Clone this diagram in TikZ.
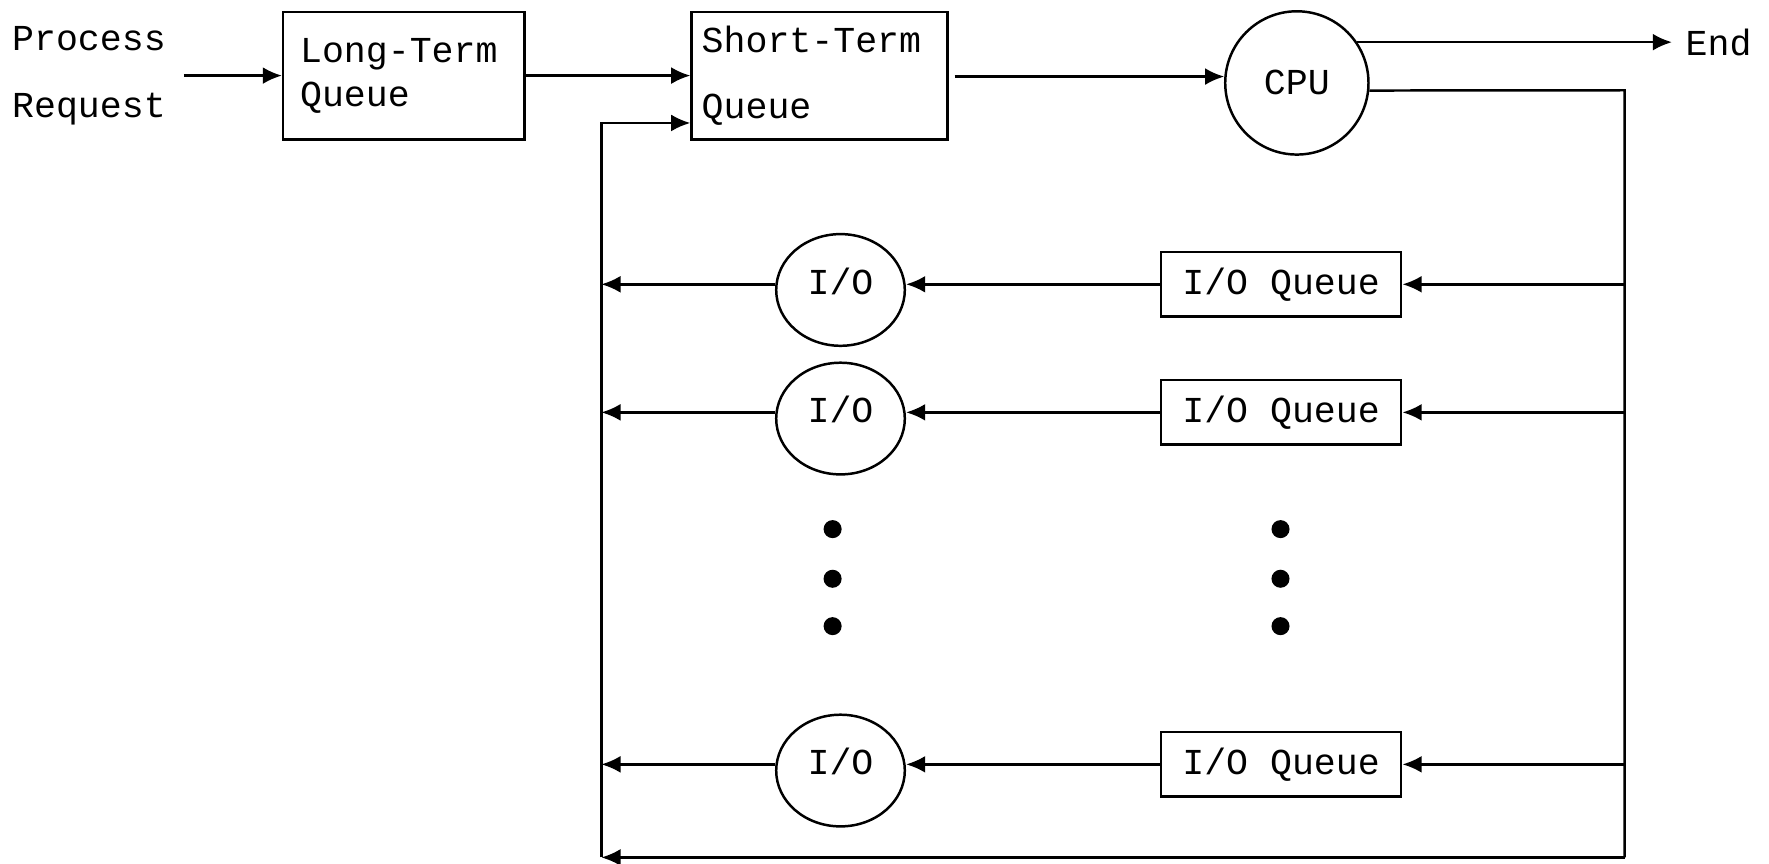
\documentclass[tikz,border=0pt]{standalone}
\usepackage{fontspec}
\setmonofont{Liberation Mono}
\usepackage{tikz}
\usetikzlibrary{
        arrows,
        arrows.meta,
        positioning,
        shapes,
        shapes.geometric
    }
\tikzset{>={Latex[length=8.5pt,width=7.5pt]},every picture/.style={line width=1.1pt}}
\tikzset{every node/.style={font=\ttfamily\fontsize{16.2pt}{19.5pt}\selectfont}}
\tikzset{queue/.style={draw,rectangle,minimum height=56.5pt,align=left}}
\tikzset{ioqueue/.style={draw,rectangle,minimum width=106.5pt,minimum height=28.5pt,inner sep=0pt}}
\tikzset{device/.style={draw,ellipse,minimum width=57pt,minimum height=49.5pt,inner sep=0pt,text height=11pt,text depth=7.4pt}}
\tikzset{proc/.style={draw,circle,minimum size=63.5pt,inner sep=0pt}}

\begin{document}
\begin{tikzpicture}[x=0.5pt,y=-0.5pt]
                    \useasboundingbox (0,0) rectangle (1568,765);
                    \node[anchor=east,align=left,inner xsep=7.5pt] (req) at (163,67) {Process\\[10pt]Request};
                    \node[queue,text width=92pt,inner xsep=7.5pt] (ltq) at (358,67) {Long-Term\\Queue};
                    \node[queue,text width=104.5pt,inner xsep=4.5pt] (stq) at (726.5,67) {Short-Term\\[10pt]Queue};
                    \node[proc] (cpu) at (1149.5,73.5) {CPU};
                    \node[anchor=west,inner xsep=5.5pt] (end) at (1482,38) {End};
                    \node[ioqueue] (ioq1) at (1135.5,252) {I/O Queue};
                    \node[ioqueue] (ioq2) at (1135.5,365.5) {I/O Queue};
                    \node[ioqueue] (ioq3) at (1135.5,677.5) {I/O Queue};
                    \node[device] (io1) at (745,257) {I/O};
                    \node[device] (io2) at (745,371) {I/O};
                    \node[device] (io3) at (745,683) {I/O};
                    \coordinate (tap) at (1440,80);
                    \coordinate (tapend) at (1440,760);
                    \coordinate (back) at (533,760);
                    \coordinate (feed) at (533,109);
                    \path[->]
                        (req)  edge  (ltq)
                        (ltq)  edge  (stq)
                        (stq.east |- cpu.175)  edge[shorten <=2.5pt]  (cpu.175)
                        (cpu.34)  edge  (cpu.34 -| end.west)
                        (tap |- ioq1)  edge  (ioq1)
                        (tap |- ioq2)  edge  (ioq2)
                        (tap |- ioq3)  edge  (ioq3)
                        (ioq1.west)  edge  (ioq1.west -| io1.east)
                        (ioq2.west)  edge  (ioq2.west -| io2.east)
                        (ioq3.west)  edge  (ioq3.west -| io3.east)
                        (io1.west |- ioq1)  edge  (back |- ioq1)
                        (io2.west |- ioq2)  edge  (back |- ioq2)
                        (io3.west |- ioq3)  edge  (back |- ioq3)
                    ;
                    \draw (cpu.-6) -- (tap) -- (tapend);
                    \draw[->] (tapend) -- (back);
                    \draw[->] (back) -- (feed) -- (feed -| stq.west);
                    % dots between the rows
                    \fill (738,469) circle (4pt) (738,513) circle (4pt) (738,555) circle (4pt)
                          (1135,469) circle (4pt) (1135,513) circle (4pt) (1135,555) circle (4pt);
\end{tikzpicture}
\end{document}
